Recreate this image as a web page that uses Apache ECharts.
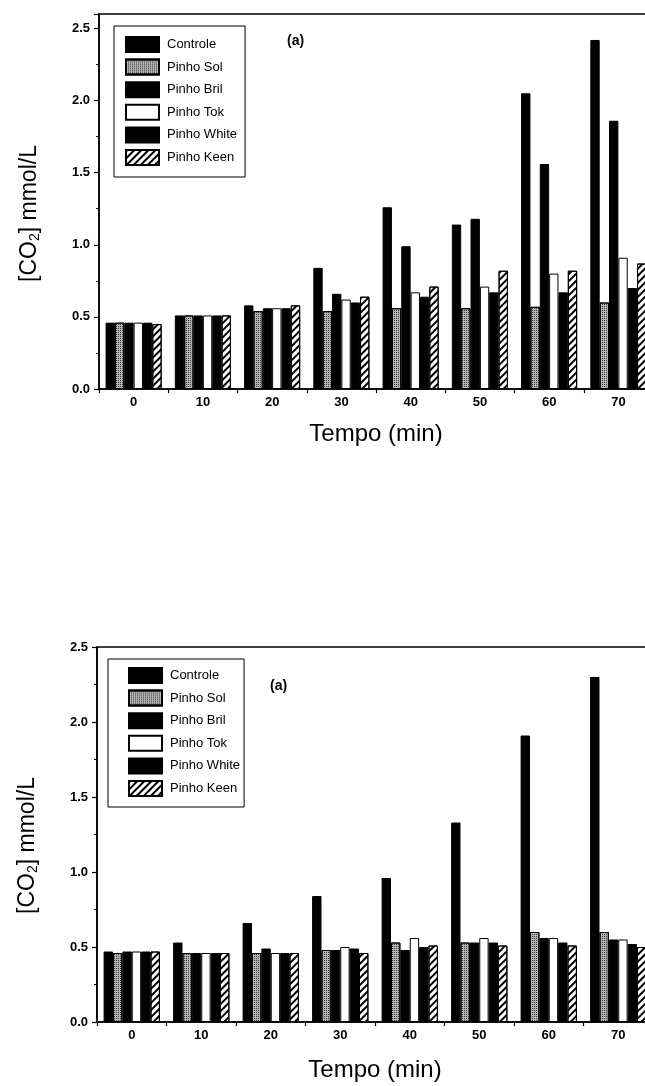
<!DOCTYPE html>
<html>
<head>
<meta charset="utf-8">
<script src="https://cdn.jsdelivr.net/npm/echarts@6/dist/echarts.min.js"></script>
<style>
  html, body { margin: 0; padding: 0; background: #fff; }
  #chart { width: 645px; height: 1086px; }
</style>
</head>
<body>
<div id="chart"></div>
<script>
// ---- Data ----
const categories = ['0', '10', '20', '30', '40', '50', '60', '70'];
const seriesNames = ['Controle', 'Pinho Sol', 'Pinho Bril', 'Pinho Tok', 'Pinho White', 'Pinho Keen'];

// Top panel
const topControle = [0.46, 0.51, 0.58, 0.84, 1.26, 1.14, 2.05, 2.42];
const topSol      = [0.46, 0.51, 0.54, 0.54, 0.56, 0.56, 0.57, 0.60];
const topBril     = [0.46, 0.51, 0.56, 0.66, 0.99, 1.18, 1.56, 1.86];
const topTok      = [0.46, 0.51, 0.56, 0.62, 0.67, 0.71, 0.80, 0.91];
const topWhite    = [0.46, 0.51, 0.56, 0.60, 0.64, 0.67, 0.67, 0.70];
const topKeen     = [0.45, 0.51, 0.58, 0.64, 0.71, 0.82, 0.82, 0.87];

// Bottom panel
const botControle = [0.47, 0.53, 0.66, 0.84, 0.96, 1.33, 1.91, 2.30];
const botSol      = [0.46, 0.46, 0.46, 0.48, 0.53, 0.53, 0.60, 0.60];
const botBril     = [0.47, 0.46, 0.49, 0.48, 0.48, 0.53, 0.56, 0.55];
const botTok      = [0.47, 0.46, 0.46, 0.50, 0.56, 0.56, 0.56, 0.55];
const botWhite    = [0.47, 0.46, 0.46, 0.49, 0.50, 0.53, 0.53, 0.52];
const botKeen     = [0.47, 0.46, 0.46, 0.46, 0.51, 0.51, 0.51, 0.50];

const topData = [topControle, topSol, topBril, topTok, topWhite, topKeen];
const botData = [botControle, botSol, botBril, botTok, botWhite, botKeen];

// ---- Styles ----
const FONT = 'Liberation Sans, Arial, sans-serif';
const styles = [
  { color: '#000' },
  { color: '#b4b4b4', decal: { symbol: 'rect', symbolSize: 1, dashArrayX: [1, 1], dashArrayY: [1, 1], color: '#3a3a3a' } },
  { color: '#000' },
  { color: '#fff' },
  { color: '#000' },
  { color: '#fff', decal: { symbol: 'rect', symbolSize: 1, dashArrayX: [1, 0], dashArrayY: [2, 3], rotation: -Math.PI / 4, color: '#000' } }
];

function itemStyle(i) {
  const s = { color: styles[i].color, borderColor: '#000', borderWidth: 1 };
  if (styles[i].decal) s.decal = styles[i].decal;
  return s;
}

function yAxis(gridIndex, max, shift) {
  return {
    type: 'value', gridIndex, min: 0, max, interval: 0.5,
    name: '[CO{s|2}] mmol/L', nameLocation: 'middle', nameGap: 57,
    nameTextStyle: {
      fontFamily: FONT, fontSize: 23, color: '#000', padding: [0, shift, 0, 0],
      rich: { s: { fontFamily: FONT, fontSize: 14, color: '#000', verticalAlign: 'bottom', padding: [10, 0, 0, 0] } }
    },
    axisLine: { show: true, lineStyle: { color: '#000', width: 1.5 } },
    axisTick: { show: true, length: 5, lineStyle: { color: '#000', width: 1.2 } },
    minorTick: { show: true, splitNumber: 2, length: 3, lineStyle: { color: '#000', width: 1 } },
    splitLine: { show: false },
    axisLabel: {
      margin: 9, fontFamily: FONT, fontSize: 13, fontWeight: 'bold', color: '#000',
      formatter: v => (Math.abs(v / 0.5 - Math.round(v / 0.5)) < 1e-6 ? v.toFixed(1) : '')
    }
  };
}

function xAxis(gridIndex, nameGap) {
  return {
    type: 'category', gridIndex, data: categories, boundaryGap: true,
    name: 'Tempo (min)', nameLocation: 'middle', nameGap,
    nameTextStyle: { fontFamily: FONT, fontSize: 24, color: '#000' },
    axisLine: { show: true, lineStyle: { color: '#000', width: 1.5 } },
    axisTick: { show: true, length: 4, lineStyle: { color: '#000', width: 1.2 } },
    axisLabel: { margin: 7, fontFamily: FONT, fontSize: 13, fontWeight: 'bold', color: '#000' }
  };
}

function legend(left, top, padding) {
  return {
    orient: 'vertical', left, top, padding,
    data: seriesNames.map(n => ({ name: n, icon: 'rect' })),
    itemWidth: 33, itemHeight: 15, itemGap: 5.6,
    borderColor: '#000', borderWidth: 1, backgroundColor: '#fff',
    textStyle: { fontFamily: FONT, fontSize: 13, color: '#000', padding: [0, 0, 0, 3] },
    selectedMode: false
  };
}

const series = [];
seriesNames.forEach((name, i) => {
  series.push({
    name, type: 'bar', xAxisIndex: 0, yAxisIndex: 0, data: topData[i],
    barGap: '0%', barCategoryGap: '19%', itemStyle: itemStyle(i), animation: false
  });
});
seriesNames.forEach((name, i) => {
  series.push({
    name, type: 'bar', xAxisIndex: 1, yAxisIndex: 1, data: botData[i],
    barGap: '0%', barCategoryGap: '19%', itemStyle: itemStyle(i), animation: false
  });
});

const chart = echarts.init(document.getElementById('chart'), null, { renderer: 'canvas' });
chart.setOption({
  backgroundColor: '#fff',
  animation: false,
  grid: [
    { left: 99, top: 14, width: 554, height: 375, outerBoundsMode: 'none', containLabel: false, show: true, borderColor: '#000', borderWidth: 1.5, backgroundColor: 'transparent' },
    { left: 97, top: 647, width: 556, height: 375, outerBoundsMode: 'none', containLabel: false, show: true, borderColor: '#000', borderWidth: 1.5, backgroundColor: 'transparent' }
  ],
  xAxis: [xAxis(0, 33), xAxis(1, 36)],
  yAxis: [yAxis(0, 2.6, 24), yAxis(1, 2.5, 22)],
  legend: [legend(114, 26, [10, 8, 11, 11]), legend(108, 659, [8, 4, 10, 20])],
  graphic: [
    { type: 'text', left: 287, top: 34, style: { text: '(a)', fontFamily: FONT, fontSize: 14, fontWeight: 'bold', fill: '#000' } },
    { type: 'text', left: 270, top: 679, style: { text: '(a)', fontFamily: FONT, fontSize: 14, fontWeight: 'bold', fill: '#000' } }
  ],
  series
});
</script>
</body>
</html>
